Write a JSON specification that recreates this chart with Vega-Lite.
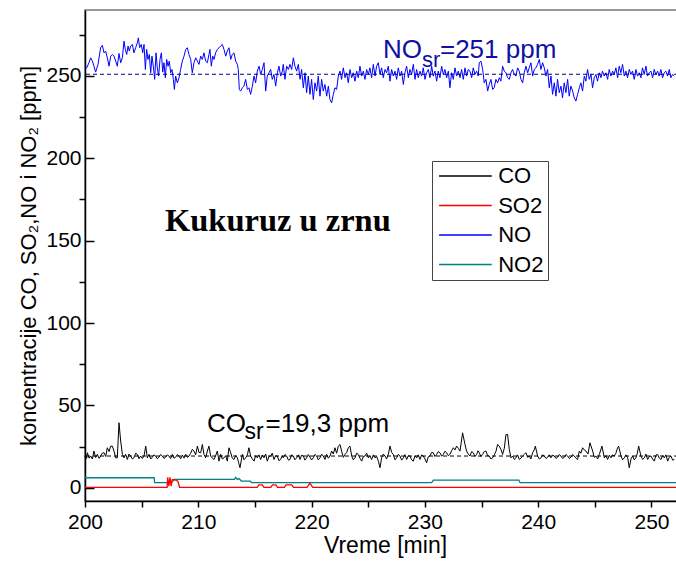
{
"$schema": "https://vega.github.io/schema/vega-lite/v6.json",
"width": 600, "height": 491,
"autosize": {"type": "none"},
"padding": {"left": 85, "top": 10, "right": 0, "bottom": 62},
"background": "white",
"config": {
 "view": {"stroke": "#777", "strokeWidth": 1.5},
 "axis": {"grid": false, "domainColor": "#000", "tickColor": "#000", "labelColor": "#000", "titleColor": "#000", "labelFont": "Liberation Sans", "titleFont": "Liberation Sans", "titleFontWeight": "normal", "domainWidth": 1.5, "tickWidth": 1.5}
},
"datasets": {
 "no2": [{"t":200,"v":6.1},{"t":206.1,"v":6.1},{"t":206.15,"v":3.1},{"t":207.6,"v":3.1},{"t":207.9,"v":5.1},{"t":213.2,"v":5.1},{"t":213.3,"v":6.3},{"t":213.45,"v":5.1},{"t":213.6,"v":5.6},{"t":213.8,"v":4.1},{"t":214.6,"v":4.1},{"t":214.7,"v":3.1},{"t":230.6,"v":3.1},{"t":230.75,"v":4.7},{"t":238.3,"v":4.7},{"t":238.4,"v":3.1},{"t":252.5,"v":3.1}],
 "so2": [{"t":200,"v":0.3},{"t":207.25,"v":0.3},{"t":207.3,"v":6.3},{"t":207.4,"v":1},{"t":207.5,"v":6.3},{"t":207.6,"v":1},{"t":207.7,"v":5},{"t":207.9,"v":5},{"t":208.2,"v":4},{"t":208.35,"v":0.3},{"t":215.2,"v":0.3},{"t":215.35,"v":1.8},{"t":215.65,"v":1.8},{"t":215.8,"v":0.3},{"t":216.4,"v":0.3},{"t":216.55,"v":1.8},{"t":216.85,"v":1.8},{"t":217.0,"v":0.3},{"t":217.6,"v":0.3},{"t":217.75,"v":1.8},{"t":218.25,"v":1.8},{"t":218.4,"v":0.3},{"t":219.6,"v":0.3},{"t":219.85,"v":2.8},{"t":220.1,"v":0.3},{"t":252.5,"v":0.3}],
 "co": [{"t":200.0,"v":18.5},{"t":200.06,"v":20.3},{"t":200.14,"v":17.8},{"t":200.21,"v":21.3},{"t":200.36,"v":18.0},{"t":200.5,"v":19.3},{"t":200.65,"v":17.5},{"t":200.79,"v":22.3},{"t":200.94,"v":18.4},{"t":201.09,"v":20.3},{"t":201.24,"v":17.9},{"t":201.38,"v":19.3},{"t":201.53,"v":21.0},{"t":201.68,"v":21.3},{"t":201.83,"v":19.0},{"t":201.97,"v":24.3},{"t":202.12,"v":22.0},{"t":202.27,"v":25.3},{"t":202.41,"v":25.3},{"t":202.56,"v":22.3},{"t":202.71,"v":18.2},{"t":202.85,"v":18.2},{"t":203.0,"v":39.5},{"t":203.15,"v":28.4},{"t":203.3,"v":20.3},{"t":203.44,"v":18.2},{"t":203.59,"v":20.3},{"t":203.74,"v":17.2},{"t":203.88,"v":20.5},{"t":204.03,"v":19.3},{"t":204.18,"v":17.5},{"t":204.32,"v":18.2},{"t":204.47,"v":21.0},{"t":204.62,"v":20.3},{"t":204.76,"v":17.6},{"t":204.91,"v":19.3},{"t":205.06,"v":17.8},{"t":205.21,"v":19.3},{"t":205.36,"v":25.3},{"t":205.5,"v":18.2},{"t":205.65,"v":20.3},{"t":205.8,"v":17.5},{"t":205.94,"v":18.6},{"t":206.09,"v":20.0},{"t":206.24,"v":19.3},{"t":206.38,"v":17.6},{"t":206.53,"v":18.6},{"t":206.68,"v":20.2},{"t":206.83,"v":19.3},{"t":206.97,"v":17.8},{"t":207.12,"v":18.6},{"t":207.27,"v":20.0},{"t":207.41,"v":19.3},{"t":207.56,"v":17.7},{"t":207.71,"v":20.3},{"t":207.85,"v":18.0},{"t":208.0,"v":18.6},{"t":208.15,"v":20.2},{"t":208.3,"v":19.3},{"t":208.44,"v":17.6},{"t":208.59,"v":19.9},{"t":208.74,"v":18.0},{"t":208.89,"v":20.3},{"t":209.03,"v":18.5},{"t":209.18,"v":19.3},{"t":209.33,"v":21.0},{"t":209.47,"v":23.3},{"t":209.62,"v":22.3},{"t":209.77,"v":20.0},{"t":209.92,"v":25.3},{"t":210.06,"v":21.5},{"t":210.21,"v":21.3},{"t":210.36,"v":26.3},{"t":210.5,"v":20.3},{"t":210.65,"v":18.2},{"t":210.8,"v":22.3},{"t":210.94,"v":25.3},{"t":211.09,"v":19.3},{"t":211.24,"v":18.0},{"t":211.39,"v":17.2},{"t":211.53,"v":19.5},{"t":211.68,"v":22.3},{"t":211.83,"v":16.2},{"t":211.97,"v":20.3},{"t":212.12,"v":17.5},{"t":212.27,"v":18.2},{"t":212.42,"v":19.5},{"t":212.56,"v":16.2},{"t":212.71,"v":24.3},{"t":212.86,"v":21.3},{"t":213.0,"v":18.0},{"t":213.15,"v":17.2},{"t":213.3,"v":19.5},{"t":213.45,"v":18.2},{"t":213.55,"v":15.5},{"t":213.68,"v":12.2},{"t":213.89,"v":20.3},{"t":214.03,"v":17.0},{"t":214.18,"v":18.2},{"t":214.33,"v":20.0},{"t":214.47,"v":24.3},{"t":214.62,"v":19.3},{"t":214.77,"v":17.5},{"t":214.92,"v":16.2},{"t":215.06,"v":19.5},{"t":215.21,"v":18.2},{"t":215.36,"v":20.0},{"t":215.5,"v":17.2},{"t":215.65,"v":19.8},{"t":215.8,"v":18.2},{"t":215.95,"v":20.5},{"t":216.09,"v":16.2},{"t":216.24,"v":19.0},{"t":216.39,"v":19.3},{"t":216.53,"v":21.0},{"t":216.68,"v":17.2},{"t":216.83,"v":19.5},{"t":216.98,"v":19.3},{"t":217.12,"v":16.5},{"t":217.27,"v":17.2},{"t":217.4,"v":19.5},{"t":217.5,"v":18.2},{"t":217.65,"v":20.2},{"t":217.8,"v":19.3},{"t":217.95,"v":16.8},{"t":218.09,"v":17.2},{"t":218.24,"v":20.0},{"t":218.39,"v":19.3},{"t":218.53,"v":17.0},{"t":218.68,"v":18.2},{"t":218.83,"v":20.0},{"t":218.98,"v":17.2},{"t":219.12,"v":19.8},{"t":219.27,"v":19.3},{"t":219.42,"v":16.8},{"t":219.56,"v":18.2},{"t":219.71,"v":20.2},{"t":219.86,"v":18.6},{"t":220.0,"v":16.9},{"t":220.15,"v":18.2},{"t":220.3,"v":20.3},{"t":220.45,"v":19.3},{"t":220.59,"v":17.0},{"t":220.74,"v":18.2},{"t":220.89,"v":20.4},{"t":221.03,"v":19.3},{"t":221.18,"v":17.2},{"t":221.33,"v":20.3},{"t":221.48,"v":18.0},{"t":221.62,"v":19.3},{"t":221.77,"v":22.3},{"t":221.92,"v":20.5},{"t":222.06,"v":24.3},{"t":222.21,"v":21.0},{"t":222.36,"v":25.3},{"t":222.51,"v":26.3},{"t":222.65,"v":22.3},{"t":222.8,"v":18.5},{"t":222.95,"v":20.3},{"t":223.1,"v":21.5},{"t":223.24,"v":24.3},{"t":223.39,"v":25.3},{"t":223.54,"v":19.3},{"t":223.68,"v":17.0},{"t":223.83,"v":18.2},{"t":223.98,"v":21.0},{"t":224.12,"v":20.3},{"t":224.27,"v":18.0},{"t":224.42,"v":16.2},{"t":224.57,"v":19.0},{"t":224.71,"v":19.3},{"t":224.86,"v":21.0},{"t":225.01,"v":18.2},{"t":225.15,"v":19.5},{"t":225.3,"v":17.2},{"t":225.45,"v":20.0},{"t":225.6,"v":18.2},{"t":225.75,"v":19.0},{"t":225.9,"v":16.0},{"t":226.04,"v":12.2},{"t":226.18,"v":18.2},{"t":226.33,"v":20.5},{"t":226.48,"v":19.3},{"t":226.62,"v":17.5},{"t":226.77,"v":20.3},{"t":226.92,"v":25.3},{"t":227.07,"v":21.5},{"t":227.21,"v":20.3},{"t":227.36,"v":17.0},{"t":227.51,"v":18.2},{"t":227.65,"v":20.3},{"t":227.8,"v":19.3},{"t":227.95,"v":16.8},{"t":228.1,"v":18.2},{"t":228.24,"v":20.2},{"t":228.39,"v":17.2},{"t":228.54,"v":19.5},{"t":228.68,"v":19.3},{"t":228.83,"v":17.0},{"t":228.98,"v":16.2},{"t":229.13,"v":19.5},{"t":229.27,"v":18.2},{"t":229.42,"v":20.0},{"t":229.57,"v":17.2},{"t":229.71,"v":20.0},{"t":229.86,"v":19.3},{"t":230.01,"v":17.5},{"t":230.15,"v":15.2},{"t":230.3,"v":18.8},{"t":230.45,"v":19.3},{"t":230.6,"v":21.5},{"t":230.74,"v":21.3},{"t":230.89,"v":19.0},{"t":231.04,"v":20.3},{"t":231.18,"v":22.0},{"t":231.33,"v":21.3},{"t":231.48,"v":19.2},{"t":231.63,"v":20.3},{"t":231.77,"v":22.2},{"t":231.92,"v":21.3},{"t":232.07,"v":19.5},{"t":232.21,"v":20.3},{"t":232.36,"v":22.5},{"t":232.51,"v":24.3},{"t":232.66,"v":23.0},{"t":232.8,"v":25.3},{"t":232.95,"v":24.0},{"t":233.1,"v":22.3},{"t":233.33,"v":33.4},{"t":233.54,"v":26.3},{"t":233.68,"v":22.3},{"t":233.83,"v":20.5},{"t":233.98,"v":19.3},{"t":234.13,"v":22.0},{"t":234.27,"v":21.3},{"t":234.42,"v":19.0},{"t":234.57,"v":20.3},{"t":234.69,"v":22.5},{"t":234.8,"v":21.3},{"t":234.95,"v":19.0},{"t":235.1,"v":20.3},{"t":235.24,"v":22.0},{"t":235.39,"v":22.3},{"t":235.54,"v":19.5},{"t":235.69,"v":19.3},{"t":235.83,"v":17.5},{"t":235.98,"v":18.2},{"t":236.13,"v":20.0},{"t":236.28,"v":22.3},{"t":236.42,"v":26.3},{"t":236.57,"v":25.3},{"t":236.72,"v":23.3},{"t":236.86,"v":20.3},{"t":237.01,"v":24.0},{"t":237.16,"v":32.4},{"t":237.3,"v":32.4},{"t":237.45,"v":23.3},{"t":237.6,"v":18.2},{"t":237.75,"v":19.3},{"t":237.89,"v":17.2},{"t":238.04,"v":18.2},{"t":238.18,"v":20.0},{"t":238.33,"v":17.2},{"t":238.48,"v":18.0},{"t":238.63,"v":19.3},{"t":238.78,"v":20.3},{"t":238.92,"v":21.3},{"t":239.07,"v":18.5},{"t":239.22,"v":19.3},{"t":239.36,"v":17.5},{"t":239.51,"v":21.3},{"t":239.65,"v":23.0},{"t":239.75,"v":25.3},{"t":239.95,"v":19.3},{"t":240.1,"v":17.5},{"t":240.25,"v":18.2},{"t":240.39,"v":20.0},{"t":240.54,"v":19.3},{"t":240.69,"v":17.8},{"t":240.84,"v":18.6},{"t":240.98,"v":20.0},{"t":241.13,"v":18.2},{"t":241.28,"v":19.8},{"t":241.42,"v":19.3},{"t":241.57,"v":17.8},{"t":241.72,"v":18.6},{"t":241.86,"v":20.2},{"t":242.01,"v":19.3},{"t":242.16,"v":17.8},{"t":242.31,"v":18.6},{"t":242.45,"v":20.2},{"t":242.6,"v":19.3},{"t":242.75,"v":17.8},{"t":242.89,"v":18.6},{"t":243.04,"v":20.2},{"t":243.19,"v":19.3},{"t":243.33,"v":18.0},{"t":243.48,"v":17.2},{"t":243.63,"v":22.3},{"t":243.77,"v":21.0},{"t":243.92,"v":24.3},{"t":244.07,"v":23.0},{"t":244.22,"v":22.3},{"t":244.4,"v":20.5},{"t":244.57,"v":27.3},{"t":244.81,"v":22.3},{"t":244.95,"v":18.5},{"t":245.1,"v":19.3},{"t":245.25,"v":17.5},{"t":245.4,"v":20.3},{"t":245.63,"v":25.3},{"t":245.84,"v":18.2},{"t":245.98,"v":19.5},{"t":246.13,"v":17.2},{"t":246.28,"v":19.8},{"t":246.43,"v":18.2},{"t":246.57,"v":20.0},{"t":246.72,"v":19.3},{"t":246.86,"v":21.0},{"t":247.01,"v":24.3},{"t":247.1,"v":25.3},{"t":247.31,"v":19.3},{"t":247.45,"v":17.0},{"t":247.6,"v":18.2},{"t":247.75,"v":20.0},{"t":247.9,"v":18.2},{"t":248.04,"v":12.2},{"t":248.19,"v":17.5},{"t":248.34,"v":19.3},{"t":248.48,"v":17.0},{"t":248.63,"v":18.2},{"t":248.75,"v":21.0},{"t":248.87,"v":25.3},{"t":249.07,"v":19.3},{"t":249.22,"v":17.2},{"t":249.37,"v":18.2},{"t":249.51,"v":20.5},{"t":249.66,"v":17.2},{"t":249.81,"v":19.0},{"t":249.96,"v":19.3},{"t":250.1,"v":17.5},{"t":250.25,"v":16.2},{"t":250.39,"v":19.8},{"t":250.54,"v":20.3},{"t":250.69,"v":18.0},{"t":250.84,"v":17.2},{"t":250.98,"v":19.5},{"t":251.13,"v":18.2},{"t":251.28,"v":20.0},{"t":251.43,"v":16.2},{"t":251.57,"v":18.5},{"t":251.72,"v":19.3},{"t":251.87,"v":16.8},{"t":252.02,"v":17.2}],
 "no": [{"t":200.0,"v":253.9},{"t":200.15,"v":254.9},{"t":200.35,"v":258.0},{"t":200.5,"v":261.0},{"t":200.65,"v":259.0},{"t":200.79,"v":255.9},{"t":200.94,"v":252.3},{"t":201.15,"v":257.0},{"t":201.38,"v":267.1},{"t":201.53,"v":268.5},{"t":201.68,"v":264.0},{"t":201.82,"v":265.1},{"t":201.97,"v":261.0},{"t":202.12,"v":255.9},{"t":202.27,"v":262.0},{"t":202.41,"v":263.0},{"t":202.56,"v":262.0},{"t":202.71,"v":259.0},{"t":202.85,"v":255.9},{"t":203.0,"v":263.6},{"t":203.15,"v":258.0},{"t":203.3,"v":261.0},{"t":203.44,"v":271.1},{"t":203.56,"v":266.1},{"t":203.68,"v":263.0},{"t":203.8,"v":268.1},{"t":203.91,"v":265.1},{"t":204.03,"v":268.1},{"t":204.18,"v":269.1},{"t":204.32,"v":264.0},{"t":204.47,"v":267.1},{"t":204.62,"v":270.1},{"t":204.71,"v":273.1},{"t":204.82,"v":267.1},{"t":204.97,"v":269.1},{"t":205.09,"v":264.0},{"t":205.21,"v":269.1},{"t":205.33,"v":253.9},{"t":205.44,"v":266.1},{"t":205.56,"v":260.0},{"t":205.68,"v":263.0},{"t":205.8,"v":251.9},{"t":205.91,"v":262.0},{"t":206.03,"v":255.9},{"t":206.15,"v":247.9},{"t":206.27,"v":264.0},{"t":206.38,"v":254.9},{"t":206.5,"v":249.9},{"t":206.62,"v":260.0},{"t":206.74,"v":264.0},{"t":206.86,"v":252.3},{"t":206.97,"v":258.0},{"t":207.09,"v":248.9},{"t":207.21,"v":260.0},{"t":207.33,"v":255.9},{"t":207.44,"v":259.0},{"t":207.56,"v":251.9},{"t":207.68,"v":253.9},{"t":207.8,"v":247.9},{"t":207.89,"v":241.8},{"t":208.0,"v":249.9},{"t":208.15,"v":245.8},{"t":208.3,"v":248.9},{"t":208.44,"v":253.9},{"t":208.59,"v":259.0},{"t":208.74,"v":262.0},{"t":208.89,"v":266.1},{"t":209.03,"v":267.1},{"t":209.18,"v":263.0},{"t":209.33,"v":260.0},{"t":209.47,"v":251.9},{"t":209.62,"v":258.0},{"t":209.77,"v":261.0},{"t":209.92,"v":259.0},{"t":210.06,"v":257.0},{"t":210.21,"v":262.0},{"t":210.36,"v":260.0},{"t":210.5,"v":264.0},{"t":210.65,"v":259.0},{"t":210.8,"v":258.0},{"t":210.94,"v":263.0},{"t":211.03,"v":266.1},{"t":211.15,"v":255.9},{"t":211.27,"v":262.0},{"t":211.39,"v":260.0},{"t":211.53,"v":264.0},{"t":211.68,"v":266.1},{"t":211.83,"v":267.1},{"t":211.97,"v":268.1},{"t":212.12,"v":269.1},{"t":212.27,"v":266.1},{"t":212.42,"v":262.0},{"t":212.56,"v":265.1},{"t":212.71,"v":267.1},{"t":212.86,"v":260.0},{"t":213.0,"v":263.0},{"t":213.15,"v":264.0},{"t":213.3,"v":259.0},{"t":213.45,"v":257.0},{"t":213.53,"v":253.9},{"t":213.62,"v":241.8},{"t":213.74,"v":240.8},{"t":213.89,"v":242.8},{"t":214.03,"v":243.8},{"t":214.18,"v":247.9},{"t":214.33,"v":241.8},{"t":214.47,"v":242.8},{"t":214.62,"v":238.8},{"t":214.77,"v":243.8},{"t":214.92,"v":249.9},{"t":215.06,"v":245.8},{"t":215.21,"v":252.9},{"t":215.36,"v":255.9},{"t":215.51,"v":250.9},{"t":215.65,"v":253.9},{"t":215.8,"v":258.0},{"t":215.95,"v":240.8},{"t":216.09,"v":249.9},{"t":216.24,"v":251.9},{"t":216.39,"v":253.9},{"t":216.53,"v":247.9},{"t":216.68,"v":250.9},{"t":216.83,"v":243.8},{"t":216.98,"v":251.9},{"t":217.12,"v":255.9},{"t":217.27,"v":249.9},{"t":217.42,"v":252.9},{"t":217.5,"v":257.0},{"t":217.65,"v":247.9},{"t":217.8,"v":255.9},{"t":217.95,"v":253.9},{"t":218.09,"v":257.0},{"t":218.24,"v":253.9},{"t":218.39,"v":261.0},{"t":218.53,"v":255.9},{"t":218.68,"v":252.9},{"t":218.83,"v":257.0},{"t":218.98,"v":247.9},{"t":219.12,"v":253.9},{"t":219.27,"v":242.8},{"t":219.42,"v":251.9},{"t":219.56,"v":239.8},{"t":219.71,"v":249.9},{"t":219.86,"v":238.8},{"t":220.0,"v":247.9},{"t":220.15,"v":235.7},{"t":220.3,"v":245.8},{"t":220.45,"v":240.8},{"t":220.59,"v":249.9},{"t":220.74,"v":237.7},{"t":220.89,"v":247.9},{"t":221.03,"v":240.8},{"t":221.18,"v":244.8},{"t":221.33,"v":237.7},{"t":221.48,"v":243.8},{"t":221.62,"v":235.7},{"t":221.77,"v":233.7},{"t":221.92,"v":238.8},{"t":222.06,"v":242.8},{"t":222.21,"v":241.8},{"t":222.36,"v":249.9},{"t":222.51,"v":252.9},{"t":222.65,"v":247.9},{"t":222.8,"v":254.9},{"t":222.95,"v":248.9},{"t":223.09,"v":251.9},{"t":223.24,"v":245.8},{"t":223.39,"v":253.9},{"t":223.54,"v":248.9},{"t":223.68,"v":251.9},{"t":223.83,"v":246.8},{"t":223.98,"v":252.9},{"t":224.12,"v":248.9},{"t":224.27,"v":255.9},{"t":224.42,"v":249.9},{"t":224.57,"v":252.9},{"t":224.71,"v":247.9},{"t":224.86,"v":253.9},{"t":225.01,"v":250.9},{"t":225.15,"v":254.9},{"t":225.3,"v":248.9},{"t":225.45,"v":257.0},{"t":225.6,"v":249.9},{"t":225.74,"v":255.9},{"t":225.89,"v":258.0},{"t":226.04,"v":250.9},{"t":226.18,"v":254.9},{"t":226.33,"v":248.9},{"t":226.48,"v":253.9},{"t":226.62,"v":251.9},{"t":226.77,"v":255.9},{"t":226.92,"v":246.8},{"t":227.07,"v":253.9},{"t":227.21,"v":249.9},{"t":227.36,"v":252.9},{"t":227.51,"v":247.9},{"t":227.65,"v":254.9},{"t":227.8,"v":249.9},{"t":227.95,"v":252.9},{"t":228.1,"v":244.8},{"t":228.24,"v":251.9},{"t":228.39,"v":255.9},{"t":228.54,"v":248.9},{"t":228.68,"v":253.9},{"t":228.83,"v":250.9},{"t":228.98,"v":257.0},{"t":229.13,"v":247.9},{"t":229.27,"v":253.9},{"t":229.42,"v":248.9},{"t":229.57,"v":252.9},{"t":229.71,"v":249.9},{"t":229.86,"v":254.9},{"t":230.01,"v":247.9},{"t":230.15,"v":251.9},{"t":230.3,"v":253.9},{"t":230.45,"v":248.9},{"t":230.6,"v":255.9},{"t":230.74,"v":249.9},{"t":230.89,"v":252.9},{"t":231.04,"v":246.8},{"t":231.18,"v":252.9},{"t":231.33,"v":248.9},{"t":231.48,"v":255.9},{"t":231.63,"v":250.9},{"t":231.77,"v":253.9},{"t":231.92,"v":248.9},{"t":232.07,"v":252.9},{"t":232.21,"v":242.8},{"t":232.36,"v":251.9},{"t":232.51,"v":247.9},{"t":232.66,"v":254.9},{"t":232.8,"v":249.9},{"t":232.95,"v":252.9},{"t":233.1,"v":248.9},{"t":233.24,"v":253.9},{"t":233.39,"v":247.9},{"t":233.54,"v":254.9},{"t":233.68,"v":249.9},{"t":233.83,"v":253.9},{"t":233.98,"v":252.9},{"t":234.13,"v":248.9},{"t":234.27,"v":254.9},{"t":234.42,"v":250.9},{"t":234.57,"v":252.9},{"t":234.71,"v":249.9},{"t":234.8,"v":258.0},{"t":234.95,"v":259.0},{"t":235.1,"v":253.9},{"t":235.24,"v":245.8},{"t":235.39,"v":247.9},{"t":235.54,"v":240.8},{"t":235.68,"v":244.8},{"t":235.83,"v":247.9},{"t":235.98,"v":241.8},{"t":236.12,"v":242.8},{"t":236.27,"v":247.9},{"t":236.42,"v":245.8},{"t":236.57,"v":248.9},{"t":236.71,"v":246.8},{"t":236.86,"v":255.9},{"t":237.01,"v":252.9},{"t":237.15,"v":251.9},{"t":237.3,"v":248.9},{"t":237.45,"v":247.9},{"t":237.6,"v":251.9},{"t":237.74,"v":253.9},{"t":237.89,"v":250.9},{"t":238.04,"v":249.9},{"t":238.18,"v":254.9},{"t":238.33,"v":252.9},{"t":238.48,"v":247.9},{"t":238.63,"v":245.8},{"t":238.77,"v":251.9},{"t":238.92,"v":255.9},{"t":239.07,"v":251.9},{"t":239.21,"v":254.9},{"t":239.36,"v":258.0},{"t":239.51,"v":249.9},{"t":239.65,"v":253.9},{"t":239.8,"v":254.9},{"t":239.95,"v":257.0},{"t":240.1,"v":260.0},{"t":240.24,"v":253.9},{"t":240.39,"v":258.0},{"t":240.54,"v":254.9},{"t":240.68,"v":249.9},{"t":240.83,"v":253.9},{"t":240.98,"v":242.8},{"t":241.13,"v":249.9},{"t":241.27,"v":238.8},{"t":241.42,"v":245.8},{"t":241.57,"v":237.7},{"t":241.71,"v":247.9},{"t":241.86,"v":239.8},{"t":242.01,"v":243.8},{"t":242.15,"v":236.7},{"t":242.3,"v":245.8},{"t":242.45,"v":239.8},{"t":242.6,"v":247.9},{"t":242.74,"v":237.7},{"t":242.89,"v":243.8},{"t":243.04,"v":240.8},{"t":243.18,"v":236.7},{"t":243.33,"v":234.7},{"t":243.48,"v":238.8},{"t":243.63,"v":242.8},{"t":243.77,"v":245.8},{"t":243.92,"v":240.8},{"t":244.07,"v":249.9},{"t":244.21,"v":246.8},{"t":244.36,"v":253.9},{"t":244.51,"v":247.9},{"t":244.66,"v":250.9},{"t":244.8,"v":242.8},{"t":244.95,"v":248.9},{"t":245.1,"v":250.9},{"t":245.24,"v":246.8},{"t":245.39,"v":251.9},{"t":245.54,"v":248.9},{"t":245.68,"v":252.9},{"t":245.83,"v":249.9},{"t":245.98,"v":251.9},{"t":246.13,"v":247.9},{"t":246.27,"v":253.9},{"t":246.42,"v":249.9},{"t":246.57,"v":252.9},{"t":246.71,"v":250.9},{"t":246.86,"v":254.9},{"t":247.01,"v":248.9},{"t":247.15,"v":255.9},{"t":247.3,"v":251.9},{"t":247.45,"v":257.0},{"t":247.6,"v":249.9},{"t":247.74,"v":252.9},{"t":247.89,"v":248.9},{"t":248.04,"v":253.9},{"t":248.18,"v":250.9},{"t":248.33,"v":252.9},{"t":248.48,"v":247.9},{"t":248.63,"v":253.9},{"t":248.77,"v":249.9},{"t":248.92,"v":251.9},{"t":249.07,"v":248.9},{"t":249.21,"v":254.9},{"t":249.36,"v":250.9},{"t":249.51,"v":255.9},{"t":249.65,"v":249.9},{"t":249.8,"v":251.9},{"t":249.95,"v":252.9},{"t":250.1,"v":248.9},{"t":250.24,"v":253.9},{"t":250.39,"v":250.9},{"t":250.54,"v":252.9},{"t":250.68,"v":249.9},{"t":250.83,"v":253.9},{"t":250.98,"v":248.9},{"t":251.13,"v":251.9},{"t":251.27,"v":252.9},{"t":251.42,"v":249.9},{"t":251.57,"v":253.9},{"t":251.71,"v":248.9},{"t":251.86,"v":250.9},{"t":252.01,"v":249.9}],
 "notes": [{"g":"title","t":207.06,"v":155.6,"txt":"Kukuruz u zrnu"},{"g":"nobig","t":226.3,"v":260.6,"txt":"NO"},{"g":"nobig","t":231.33,"v":260.6,"txt":"=251 ppm"},{"g":"nosub","t":229.74,"v":255.7,"txt":"sr"},{"g":"cobig","t":210.77,"v":33.6,"txt":"CO"},{"g":"cobig","t":215.93,"v":33.6,"txt":"=19,3 ppm"},{"g":"cosub","t":214.08,"v":29.4,"txt":"sr"}]
},
"layer": [
 {"data": {"name": "no2"}, "mark": {"type": "line", "strokeWidth": 1.3},
  "encoding": {
   "x": {"field": "t", "type": "quantitative", "scale": {"domain": [200, 252.96], "nice": false, "zero": false},
     "axis": {"title": "Vreme [min]", "values": [200,205,210,215,220,225,230,235,240,245,250], "labelExpr": "datum.value % 10 === 0 ? datum.label : ''", "tickSize": 6, "labelFontSize": 21, "labelPadding": 4, "titleFontSize": 23, "titlePadding": 2, "labelFlush": false}},
   "y": {"field": "v", "type": "quantitative", "scale": {"domain": [-8, 290], "nice": false, "zero": false},
     "axis": {"title": "koncentracije CO, SO₂,NO i NO₂ [ppm]", "values": [0,25,50,75,100,125,150,175,200,225,250,275], "labelExpr": "datum.value % 50 === 0 ? datum.label : ''", "tickSize": {"condition": {"test": "datum.value % 50 === 0", "value": -9}, "value": 6}, "labelFontSize": 21, "labelPadding": 13, "titleFontSize": 22, "titlePadding": 5, "labelFlush": false}},
   "color": {"datum": "NO2", "type": "nominal",
     "scale": {"domain": ["CO","SO2","NO","NO2"], "range": ["#000000","#ff0000","#0000ff","#008080"]},
     "legend": {"title": null, "orient": "none", "legendX": 347, "legendY": 151, "symbolType": "M-2.9,0H2.9", "symbolSize": 330, "symbolOffset": 18.4, "symbolStrokeWidth": 1.6, "labelFontSize": 22, "labelFont": "Liberation Sans", "labelColor": "#000", "strokeColor": "#444", "fillColor": "white", "padding": 4, "rowPadding": 7.5, "labelOffset": 21.8}}
  }},
 {"data": {"name": "so2"}, "mark": {"type": "line", "strokeWidth": 1.3},
  "encoding": {"x": {"field": "t", "type": "quantitative"}, "y": {"field": "v", "type": "quantitative"}, "color": {"datum": "SO2", "type": "nominal"}}},
 {"data": {"name": "co"}, "mark": {"type": "line", "strokeWidth": 1},
  "encoding": {"x": {"field": "t", "type": "quantitative"}, "y": {"field": "v", "type": "quantitative"}, "color": {"datum": "CO", "type": "nominal"}}},
 {"data": {"name": "no"}, "mark": {"type": "line", "strokeWidth": 1},
  "encoding": {"x": {"field": "t", "type": "quantitative"}, "y": {"field": "v", "type": "quantitative"}, "color": {"datum": "NO", "type": "nominal"}}},
 {"data": {"values": [{"v": 251}]}, "mark": {"type": "rule", "color": "#000080", "strokeDash": [4, 3], "strokeWidth": 1.2},
  "encoding": {"y": {"field": "v", "type": "quantitative"}}},
 {"data": {"values": [{"v": 19.3}]}, "mark": {"type": "rule", "color": "#000000", "strokeDash": [4, 3], "strokeWidth": 1},
  "encoding": {"y": {"field": "v", "type": "quantitative"}}},
 {"data": {"name": "notes"}, "transform": [{"filter": "datum.g === 'title'"}],
  "mark": {"type": "text", "font": "Liberation Serif", "fontWeight": "bold", "fontSize": 32.5, "align": "left", "baseline": "alphabetic", "color": "#000"},
  "encoding": {"x": {"field": "t", "type": "quantitative"}, "y": {"field": "v", "type": "quantitative"}, "text": {"field": "txt"}}},
 {"data": {"name": "notes"}, "transform": [{"filter": "datum.g === 'nobig'"}],
  "mark": {"type": "text", "font": "Liberation Sans", "fontSize": 26, "align": "left", "baseline": "alphabetic", "color": "#0f0fa5"},
  "encoding": {"x": {"field": "t", "type": "quantitative"}, "y": {"field": "v", "type": "quantitative"}, "text": {"field": "txt"}}},
 {"data": {"name": "notes"}, "transform": [{"filter": "datum.g === 'nosub'"}],
  "mark": {"type": "text", "font": "Liberation Sans", "fontSize": 22, "align": "left", "baseline": "alphabetic", "color": "#0f0fa5"},
  "encoding": {"x": {"field": "t", "type": "quantitative"}, "y": {"field": "v", "type": "quantitative"}, "text": {"field": "txt"}}},
 {"data": {"name": "notes"}, "transform": [{"filter": "datum.g === 'cobig'"}],
  "mark": {"type": "text", "font": "Liberation Sans", "fontSize": 26, "align": "left", "baseline": "alphabetic", "color": "#000"},
  "encoding": {"x": {"field": "t", "type": "quantitative"}, "y": {"field": "v", "type": "quantitative"}, "text": {"field": "txt"}}},
 {"data": {"name": "notes"}, "transform": [{"filter": "datum.g === 'cosub'"}],
  "mark": {"type": "text", "font": "Liberation Sans", "fontSize": 23, "align": "left", "baseline": "alphabetic", "color": "#000"},
  "encoding": {"x": {"field": "t", "type": "quantitative"}, "y": {"field": "v", "type": "quantitative"}, "text": {"field": "txt"}}}
]
}
